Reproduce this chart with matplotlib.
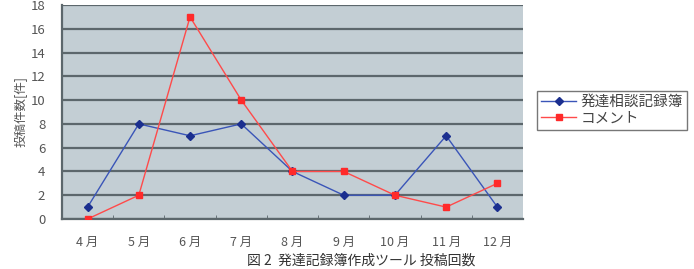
import matplotlib
matplotlib.use("Agg")
import matplotlib.pyplot as plt
from matplotlib.ticker import FixedLocator

plt.rcParams['font.family'] = ['Noto Sans CJK JP', 'DejaVu Sans']

months = ['4 月', '5 月', '6 月', '7 月', '8 月', '9 月', '10 月', '11 月', '12 月']
records = [1, 8, 7, 8, 4, 2, 2, 7, 1]      # 発達相談記録簿
comments = [0, 2, 17, 10, 4, 4, 2, 1, 3]   # コメント
yticks = list(range(0, 19, 2))

fig = plt.figure(figsize=(6.94, 2.69), dpi=100)
ax = fig.add_axes([0.0893, 0.1859, 0.6643, 0.7955])
ax.set_facecolor('#c3ced4')

x = list(range(len(months)))
ax.plot(x, records, color='#3a55b8', lw=1.0, marker='D', ms=4,
        mfc='#1b2f8f', mec='#1b2f8f', label='発達相談記録簿', zorder=3)
ax.plot(x, comments, color='#ff4a4a', lw=1.0, marker='s', ms=5,
        mfc='#ff2a2a', mec='#ff2a2a', label='コメント', zorder=3)

ax.set_xlim(-0.5, len(months) - 0.5)
ax.set_ylim(0, 18)
ax.set_yticks(yticks)
ax.yaxis.grid(True, color='#5c676c', lw=1.6)
ax.set_axisbelow(True)
ax.set_xticks(x)
ax.set_xticklabels(months)
ax.xaxis.set_minor_locator(FixedLocator([i + 0.5 for i in x[:-1]]))
ax.tick_params(axis='x', which='major', length=0, pad=12, labelsize=9, colors='#555555')
ax.tick_params(axis='x', which='minor', length=3, direction='in', color='#5c676c')
ax.tick_params(axis='y', length=0, pad=12, labelsize=9.5, colors='#555555')

for s in ['top', 'right']:
    ax.spines[s].set_visible(False)
for s in ['left', 'bottom']:
    ax.spines[s].set_color('#5c676c')
    ax.spines[s].set_linewidth(1.6)

ax.set_ylabel('投稿件数[件]', fontsize=9, color='#555555', labelpad=2)

leg = ax.legend(loc='upper left', bbox_to_anchor=(1.03, 0.6), fontsize=10.5,
                frameon=True, fancybox=False, borderpad=0.3, labelspacing=0.15,
                handlelength=2.4, handletextpad=0.3, borderaxespad=0)
leg.get_frame().set_edgecolor('#555555')
leg.get_frame().set_linewidth(1.0)
for t in leg.get_texts():
    t.set_color('#444444')

fig.text(0.52, 0.03, '図 2  発達記録簿作成ツール 投稿回数', ha='center', va='center',
         fontsize=10, color='#333333')

fig.savefig('out.png', dpi=100)
